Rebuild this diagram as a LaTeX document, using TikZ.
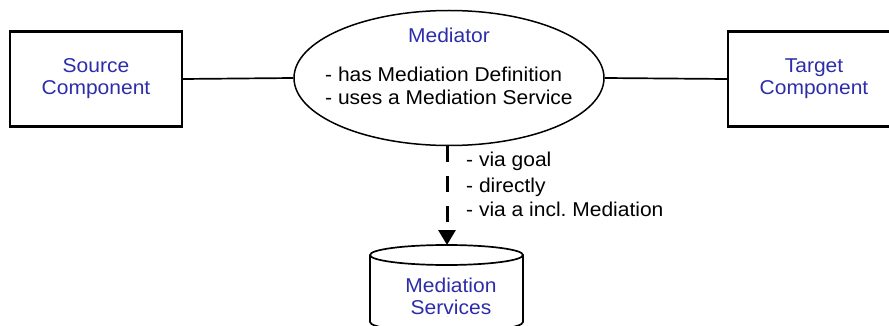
\documentclass[tikz,border=0pt]{standalone}
\usepackage{fontspec}
\setmainfont{Liberation Sans}[FakeStretch=1.05]
\usetikzlibrary{arrows.meta,shapes.geometric}
\definecolor{medblue}{RGB}{45,45,170}
\begin{document}
\begin{tikzpicture}[x=1pt,y=1pt,
  comp/.style={draw, line width=2.2pt, minimum width=172pt, minimum height=95pt, inner sep=0pt,
    text=medblue, font=\fontsize{20}{22}\selectfont, align=center},
  bluetxt/.style={text=medblue, font=\fontsize{20}{22}\selectfont, align=center, inner sep=0pt},
  blktxt/.style={font=\fontsize{20}{25}\selectfont, inner sep=0pt, anchor=base west},
  conn/.style={line width=1.7pt},
  usearrow/.style={line width=3pt, dash pattern=on 16pt off 14pt, -{Triangle[length=15pt,width=17pt]}}]
\useasboundingbox (0,0) rectangle (889,-326);
% components
\node[comp] (src) at (96,-79) {Source\\Component};
\node[comp] (tgt) at (814,-79) {Target\\Component};
% mediator
\node[draw, ellipse, line width=1.5pt, minimum width=310pt, minimum height=135pt, inner sep=0pt] (med) at (449,-78) {};
\node[bluetxt, anchor=base] (medname) at (449,-43) {Mediator};
\node[blktxt] (medl1) at (325,-82) {- has Mediation Definition};
\node[blktxt] (medl2) at (325,-105) {- uses a Mediation Service};
% connectors
\draw[conn] (src.east) -- (med.west);
\draw[conn] (med.east) -- (tgt.west);
% services cylinder
\coordinate (cyltop) at (447,-245);
\draw[conn, fill=white] (370,-255) -- (370,-322) arc[start angle=180, end angle=360, x radius=76.5, y radius=10] -- (523,-255);
\draw[conn] (446.5,-255) ellipse [x radius=76.5, y radius=10];
\node[bluetxt] (svc) at (451,-296) {Mediation\\Services};
% usage arrow
\draw[usearrow] (cyltop |- med.south) -- (cyltop);
\node[blktxt] (lab1) at (466,-167) {- via goal};
\node[blktxt] (lab2) at (466,-192) {- directly};
\node[blktxt] (lab3) at (466,-216) {- via a incl.\ Mediation};
\end{tikzpicture}
\end{document}
